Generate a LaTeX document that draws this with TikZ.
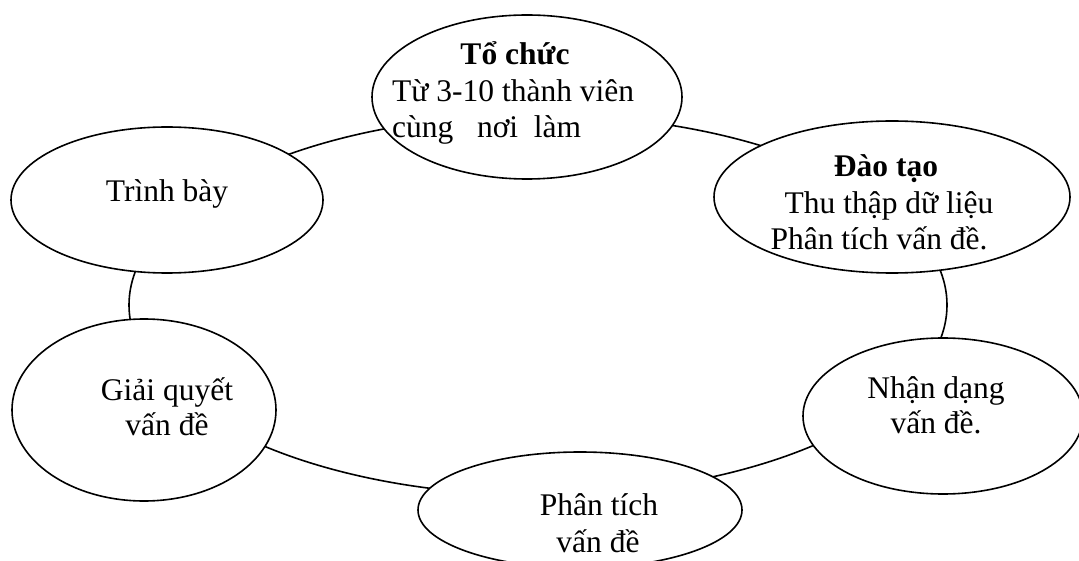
\documentclass[tikz,border=0pt]{standalone}
\usepackage{fontspec}
\setmainfont{Liberation Serif}
\usetikzlibrary{shapes.geometric}
\begin{document}
\begin{tikzpicture}[x=1pt,y=-1pt,
  ring/.style={ellipse, draw, line width=1.6pt, inner sep=0pt},
  bubble/.style={ellipse, draw, line width=1.6pt, fill=white, inner sep=0pt},
  lbl/.style={anchor=base, inner sep=0pt, font=\fontsize{31.5}{36}\selectfont},
  lblw/.style={lbl, anchor=base west},
  head/.style={anchor=base, inner sep=0pt, font=\fontsize{31.5}{36}\selectfont\bfseries}]
\useasboundingbox (0,0) rectangle (1079,561);
\clip (0,0) rectangle (1079,561);

% the cycle that links the stages
\node[ring, minimum width=818pt, minimum height=380pt] (cycle) at (538,305) {};

% stages
\node[bubble, minimum width=310pt, minimum height=164pt] (org)   at (527,97)  {};
\node[bubble, minimum width=356pt, minimum height=152pt] (train) at (892,197) {};
\node[bubble, minimum width=280pt, minimum height=156pt] (ident) at (943,416) {};
\node[bubble, minimum width=324pt, minimum height=116pt] (anal)  at (580,510) {};
\node[bubble, minimum width=264pt, minimum height=182pt] (solve) at (144,410) {};
\node[bubble, minimum width=312pt, minimum height=146pt] (pres)  at (167,200) {};

% labels
\node[head] (orgA) at (515,65) {Tổ chức};
\node[lblw] (orgB) at (392,102) {Từ 3-10 thành viên};
\node[lblw] (orgC) at (392,138) {cùng\ \ \ nơi\ \ làm};

\node[head] (trainA) at (886,177) {Đào tạo};
\node[lbl]  (trainB) at (889,214) {Thu thập dữ liệu};
\node[lbl]  (trainC) at (879,250) {Phân tích vấn đề.};

\node[lbl] (identA) at (936,398) {Nhận dạng};
\node[lbl] (identB) at (936,433) {vấn đề.};

\node[lbl] (analA) at (599,515) {Phân tích};
\node[lbl] (analB) at (598,552) {vấn đề};

\node[lbl] (solveA) at (167,400) {Giải quyết};
\node[lbl] (solveB) at (167,435) {vấn đề};

\node[lbl] (presA) at (167,202) {Trình bày};
\end{tikzpicture}
\end{document}
